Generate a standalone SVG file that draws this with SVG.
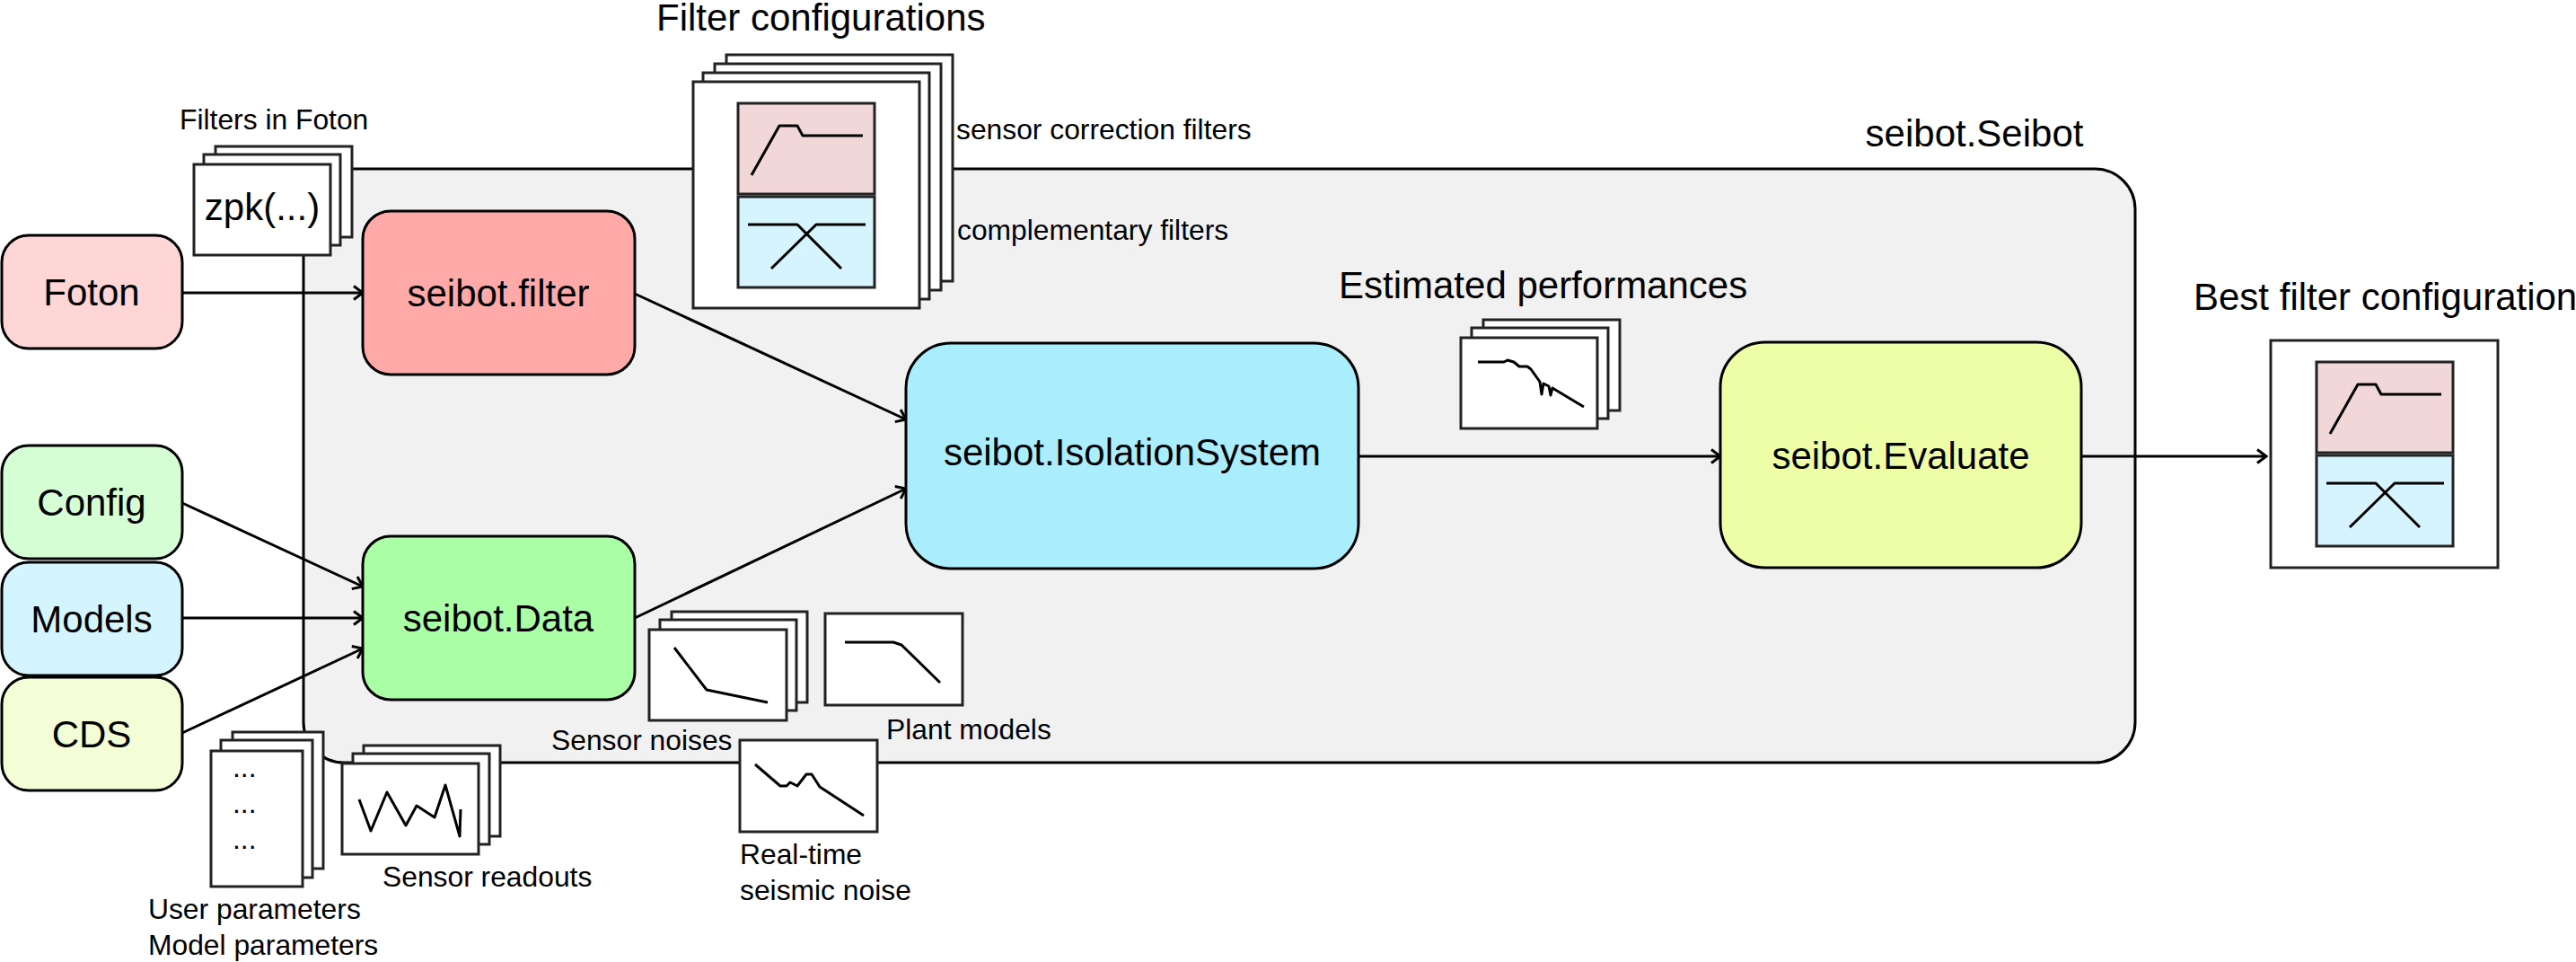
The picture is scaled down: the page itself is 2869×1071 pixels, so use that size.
<svg xmlns="http://www.w3.org/2000/svg" width="2869" height="1071" viewBox="0 0 2869 1071">
<style>
  text { font-family: "Liberation Sans", Arial, sans-serif; fill: #000; }
  .big { font-size: 42px; }
  .small { font-size: 31.8px; }
  .mid { text-anchor: middle; }
  .node { stroke: #000; stroke-width: 3; }
  .doc { fill: #fff; stroke: #222; stroke-width: 3; }
  .curve { fill: none; stroke: #000; stroke-width: 3; stroke-linejoin: round; }
  .edge { fill: none; stroke: #000; stroke-width: 3; marker-end: url(#arr); }
  .pink { fill: #F2D7D9; stroke: #222; stroke-width: 3; }
  .blue { fill: #D5F4FD; stroke: #222; stroke-width: 3; }
</style>
<defs>
  <marker id="arr" markerUnits="userSpaceOnUse" markerWidth="20" markerHeight="20" viewBox="-13 -10 15 20" refX="0" refY="0" orient="auto">
    <path d="M-10,-7.5 L0,0 L-10,7.5" fill="none" stroke="#000" stroke-width="3"/>
  </marker>
  <g id="filterpair">
    <rect class="pink" x="0" y="0" width="152" height="101"/>
    <rect class="blue" x="0" y="104" width="152" height="101"/>
    <polyline class="curve" points="15,80 46,25 66,25 72,36 139,36"/>
    <polyline class="curve" points="11,135 66,135 115,184"/>
    <polyline class="curve" points="37,184 87,135 142,135"/>
  </g>
</defs>
<rect width="2869" height="1071" fill="#fff"/>

<!-- container -->
<g id="seibot-Seibot">
  <rect x="338" y="188" width="2040" height="661" rx="45" ry="45" fill="#F1F1F1" stroke="#000" stroke-width="3"/>
  <text class="big mid" x="2199" y="163">seibot.Seibot</text>
</g>

<!-- connectors -->
<g id="connectors">
  <line class="edge" x1="203" y1="326" x2="404" y2="326"/>
  <line class="edge" x1="203" y1="560" x2="404" y2="653"/>
  <line class="edge" x1="203" y1="688" x2="404" y2="688"/>
  <line class="edge" x1="203" y1="816" x2="404" y2="722"/>
  <line class="edge" x1="707" y1="327" x2="1009" y2="467"/>
  <line class="edge" x1="707" y1="688" x2="1009" y2="544"/>
  <line class="edge" x1="1513" y1="508" x2="1916" y2="508"/>
  <line class="edge" x1="2318" y1="508" x2="2524" y2="508"/>
</g>

<!-- input nodes -->
<g id="foton">
  <rect class="node" x="2" y="262" width="201" height="126" rx="30" fill="#FFD6D6"/>
  <text class="big mid" x="102" y="340">Foton</text>
</g>
<g id="config">
  <rect class="node" x="2" y="496" width="201" height="126" rx="30" fill="#D5FED5"/>
  <text class="big mid" x="102" y="574">Config</text>
</g>
<g id="models">
  <rect class="node" x="2" y="626" width="201" height="126" rx="30" fill="#D5F5FE"/>
  <text class="big mid" x="102" y="704">Models</text>
</g>
<g id="cds">
  <rect class="node" x="2" y="754" width="201" height="126" rx="30" fill="#F4FED6"/>
  <text class="big mid" x="102" y="832">CDS</text>
</g>

<!-- main nodes -->
<g id="seibot-filter">
  <rect class="node" x="404" y="235" width="303" height="182" rx="31" fill="#FFA9A9"/>
  <text class="big mid" x="555" y="341">seibot.filter</text>
</g>
<g id="seibot-Data">
  <rect class="node" x="404" y="597" width="303" height="182" rx="31" fill="#AAFFA6"/>
  <text class="big mid" x="555" y="703">seibot.Data</text>
</g>
<g id="seibot-IsolationSystem">
  <rect class="node" x="1009" y="382" width="504" height="251" rx="50" fill="#AAEDFD"/>
  <text class="big mid" x="1261" y="518">seibot.IsolationSystem</text>
</g>
<g id="seibot-Evaluate">
  <rect class="node" x="1916" y="381" width="402" height="251" rx="50" fill="#EDFEA7"/>
  <text class="big mid" x="2117" y="522">seibot.Evaluate</text>
</g>

<!-- Filters in Foton -->
<g id="filters-in-foton">
  <text class="small" x="200" y="144">Filters in Foton</text>
  <rect class="doc" x="240" y="163" width="152" height="101"/>
  <rect class="doc" x="227" y="172" width="152" height="101"/>
  <rect class="doc" x="216" y="183" width="152" height="101"/>
  <text class="big mid" x="292" y="245">zpk(...)</text>
</g>

<!-- Filter configurations -->
<g id="filter-configurations">
  <text class="big" x="731" y="34">Filter configurations</text>
  <rect class="doc" x="809" y="61" width="252" height="252"/>
  <rect class="doc" x="796" y="71" width="252" height="252"/>
  <rect class="doc" x="783" y="81" width="252" height="252"/>
  <rect class="doc" x="772" y="91" width="252" height="252"/>
  <use href="#filterpair" x="822" y="115"/>
  <text class="small" x="1065" y="155">sensor correction filters</text>
  <text class="small" x="1066" y="267">complementary filters</text>
</g>

<!-- Estimated performances -->
<g id="estimated-performances">
  <text class="big" x="1491" y="332">Estimated performances</text>
  <rect class="doc" x="1652" y="356" width="152" height="101"/>
  <rect class="doc" x="1639" y="365" width="152" height="101"/>
  <rect class="doc" x="1627" y="376" width="152" height="101"/>
  <polyline class="curve" points="1646,403 1675,403 1679,401 1686,403 1692,408 1701,408 1705,411 1715,425 1717,439 1719,427 1725,430 1727,440 1729,432 1764,453"/>
</g>

<!-- Best filter configuration -->
<g id="best-filter-configuration">
  <text class="big" x="2443" y="345">Best filter configuration</text>
  <rect class="doc" x="2529" y="379" width="253" height="253" stroke="#000"/>
  <use href="#filterpair" x="2580" y="403"/>
</g>

<!-- Sensor noises -->
<g id="sensor-noises">
  <rect class="doc" x="748" y="681" width="151" height="101"/>
  <rect class="doc" x="735" y="690" width="152" height="101"/>
  <rect class="doc" x="723" y="701" width="153" height="101"/>
  <polyline class="curve" points="751,721 787,768 855,782"/>
  <text class="small" x="614" y="835">Sensor noises</text>
</g>

<!-- Plant models -->
<g id="plant-models">
  <rect class="doc" x="919" y="683" width="153" height="102"/>
  <polyline class="curve" points="941,715 995,715 1004,718 1047,760"/>
  <text class="small" x="987" y="823">Plant models</text>
</g>

<!-- Real-time seismic noise -->
<g id="seismic-noise">
  <rect class="doc" x="824" y="824" width="153" height="102"/>
  <polyline class="curve" points="841,851 869,875 876,875 880,871 888,875 898,862 904,862 913,876 962,908"/>
  <text class="small" x="824" y="962">Real-time</text>
  <text class="small" x="824" y="1002">seismic noise</text>
</g>

<!-- User / model parameters -->
<g id="parameters">
  <rect class="doc" x="259" y="815" width="101" height="152"/>
  <rect class="doc" x="246" y="824" width="102" height="153"/>
  <rect class="doc" x="235" y="836" width="102" height="151"/>
  <text class="small" x="259" y="865">...</text>
  <text class="small" x="259" y="905">...</text>
  <text class="small" x="259" y="945">...</text>
  <text class="small" x="165" y="1023">User parameters</text>
  <text class="small" x="165" y="1063">Model parameters</text>
</g>

<!-- Sensor readouts -->
<g id="sensor-readouts">
  <rect class="doc" x="405" y="830" width="152" height="101"/>
  <rect class="doc" x="393" y="839" width="152" height="101"/>
  <rect class="doc" x="381" y="850" width="152" height="101"/>
  <polyline class="curve" points="400,890 413,925 431,882 452,919 464,897 484,910 496,874 512,931 513,901"/>
  <text class="small" x="426" y="987">Sensor readouts</text>
</g>
</svg>
